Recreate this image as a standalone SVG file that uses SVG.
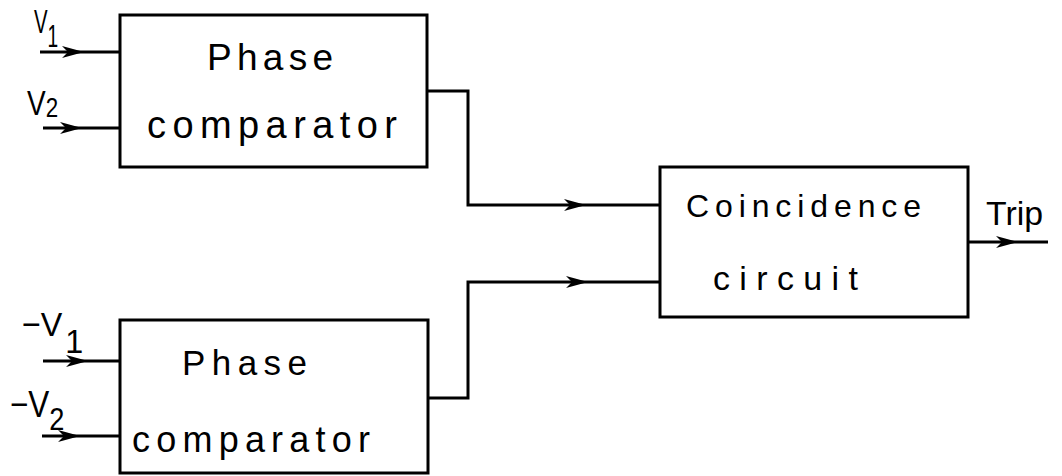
<svg xmlns="http://www.w3.org/2000/svg" width="1062" height="476" viewBox="0 0 1062 476">
  <style>
    .box { fill: #fff; stroke: #000; stroke-width: 3; }
    .wire { fill: none; stroke: #000; stroke-width: 3; stroke-linejoin: miter; }
    .lbl { font-family: "Liberation Sans", Arial, sans-serif; fill: #000; }
    .head { fill: #000; }
  </style>
  <defs>
    <!-- arrowhead drawn mid-line, tip at origin pointing right -->
    <path id="arrow" class="head" d="M0,0 L-22,-6 L-16,0 L-22,6 Z"/>
  </defs>

  <rect width="1062" height="476" fill="#fff"/>

  <g id="connectors">
    <!-- inputs to upper comparator -->
    <path class="wire" d="M40,52 H120"/>
    <path class="wire" d="M43,128 H120"/>
    <!-- inputs to lower comparator -->
    <path class="wire" d="M43,361 H120"/>
    <path class="wire" d="M42,436 H120"/>
    <!-- comparator outputs to coincidence circuit -->
    <path class="wire" d="M427,91 H468 V205 H660"/>
    <path class="wire" d="M428,398 H468 V282 H660"/>
    <!-- trip output -->
    <path class="wire" d="M968,242 H1048"/>

    <use href="#arrow" x="84" y="52"/>
    <use href="#arrow" x="82" y="128"/>
    <use href="#arrow" x="88" y="361"/>
    <use href="#arrow" x="80" y="436"/>
    <use href="#arrow" x="586" y="205"/>
    <use href="#arrow" x="588" y="282"/>
    <use href="#arrow" x="1018" y="242"/>

    <!-- signal labels, squeezed horizontally like hand lettering -->
    <text class="lbl" font-size="34" transform="translate(34,33) scale(0.6,1)">V<tspan font-size="32" dy="14">1</tspan></text>
    <text class="lbl" font-size="35" transform="translate(27,115) scale(0.8,1)">V<tspan font-size="28" dy="2">2</tspan></text>
    <text class="lbl" font-size="34" transform="translate(22,336) scale(0.95,1)">−V<tspan font-size="34" dx="3" dy="17">1</tspan></text>
    <text class="lbl" font-size="37" transform="translate(10,417) scale(0.85,1)">−V<tspan font-size="32" dy="13">2</tspan></text>
    <text class="lbl" x="986" y="225" font-size="34" textLength="57" lengthAdjust="spacingAndGlyphs">Trip</text>
  </g>

  <g id="phase-comparator-1">
    <rect class="box" x="120" y="15" width="307" height="152"/>
    <text class="lbl" x="207" y="70" font-size="37" textLength="126" lengthAdjust="spacing">Phase</text>
    <text class="lbl" x="147" y="138" font-size="38" textLength="250" lengthAdjust="spacing">comparator</text>
  </g>

  <g id="phase-comparator-2">
    <rect class="box" x="120" y="320" width="308" height="153"/>
    <text class="lbl" x="182" y="375" font-size="35" textLength="125" lengthAdjust="spacing">Phase</text>
    <text class="lbl" x="132" y="452" font-size="36" textLength="238" lengthAdjust="spacing">comparator</text>
  </g>

  <g id="coincidence-circuit">
    <rect class="box" x="660" y="167" width="308" height="150"/>
    <text class="lbl" x="686" y="217" font-size="32" textLength="235" lengthAdjust="spacing">Coincidence</text>
    <text class="lbl" x="713" y="290" font-size="34" textLength="145" lengthAdjust="spacing">circuit</text>
  </g>
</svg>
